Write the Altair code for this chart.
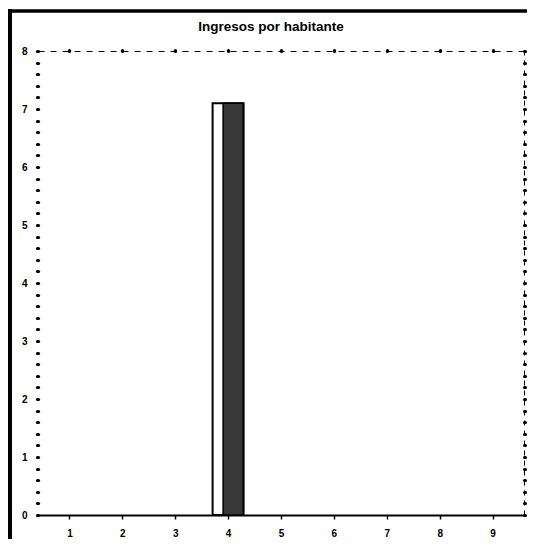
import altair as alt
import pandas as pd

# data
categories = [4]
values = [7.1]
x_tick_labels = [1, 2, 3, 4, 5, 6, 7, 8, 9]
y_tick_labels = [0, 1, 2, 3, 4, 5, 6, 7, 8]
y_dot_ticks = [i / 5 for i in range(41)]
title_text = "Ingresos por habitante"

df = pd.DataFrame({"x": categories, "v": values})

xs = alt.Scale(domain=[0.5, 9.5], nice=False, zero=False)
ys = alt.Scale(domain=[0, 8], nice=False)

FONT = "Liberation Sans"
label_expr = "datum.value % 1 == 0 ? format(datum.value, 'd') : ''"

base = alt.Chart(df)

white_bar = base.mark_bar(size=31, fill="white", stroke="black", strokeWidth=2).encode(
    x=alt.X("x:Q", scale=xs, title=None,
            axis=alt.Axis(orient="bottom", values=x_tick_labels, grid=False,
                          domainColor="black", domainWidth=1.8,
                          tickColor="black", tickSize=4, tickWidth=1.5,
                          labelFont=FONT, labelFontWeight="bold", labelFontSize=10,
                          labelColor="black", labelPadding=9, labelFlush=False,
                          format="d")),
    y=alt.Y("v:Q", scale=ys, title=None,
            axis=alt.Axis(orient="left", values=y_dot_ticks, grid=False, domain=False,
                          tickColor="black", tickSize=1, tickWidth=3.2, tickCap="round",
                          labelExpr=label_expr, labelOverlap=False,
                          labelFont=FONT, labelFontWeight="bold", labelFontSize=10,
                          labelColor="black", labelPadding=10, labelFlush=False)),
)

dark_bar = base.mark_bar(size=20, xOffset=5, fill="#383838", stroke="black", strokeWidth=1.5).encode(
    x=alt.X("x:Q", scale=xs, axis=None),
    y=alt.Y("v:Q", scale=ys, axis=None),
)

frame_axes = base.mark_point(opacity=0).encode(
    x=alt.X("x:Q", scale=xs, title=None,
            axis=alt.Axis(orient="top", values=x_tick_labels, grid=False, labels=False,
                          domainColor="black", domainWidth=1, domainDash=[6, 6],
                          tickColor="black", tickSize=1, tickWidth=3.2, tickCap="round")),
    y=alt.Y("v:Q", scale=ys, title=None,
            axis=alt.Axis(orient="right", values=y_dot_ticks, grid=False, labels=False,
                          domainColor="black", domainWidth=1, domainDash=[5, 5],
                          tickColor="black", tickSize=1, tickWidth=3, tickCap="round")),
)

left_border = alt.Chart(df).mark_rule(color="black", strokeWidth=4).encode(
    x=alt.value(-28), y=alt.value(-42), y2=alt.value(490)
)
top_border = alt.Chart(df).mark_rule(color="black", strokeWidth=3.5).encode(
    x=alt.value(-30), x2=alt.value(490), y=alt.value(-40)
)
title = alt.Chart(pd.DataFrame({"t": [title_text]})).mark_text(
    font=FONT, fontSize=13.5, fontWeight="bold", color="black",
    align="center", baseline="middle"
).encode(text="t:N", x=alt.value(233), y=alt.value(-24))

chart = (
    alt.layer(white_bar, dark_bar, frame_axes, left_border, top_border, title)
    .resolve_axis(x="independent", y="independent")
    .properties(
        width=486,
        height=464,
        autosize=alt.AutoSizeParams(type="none"),
        padding={"left": 30, "top": 43, "right": 3, "bottom": 24},
    )
    .configure_view(strokeWidth=0)
)

chart.save("out.html", embed_options={"renderer": "svg", "actions": False})
